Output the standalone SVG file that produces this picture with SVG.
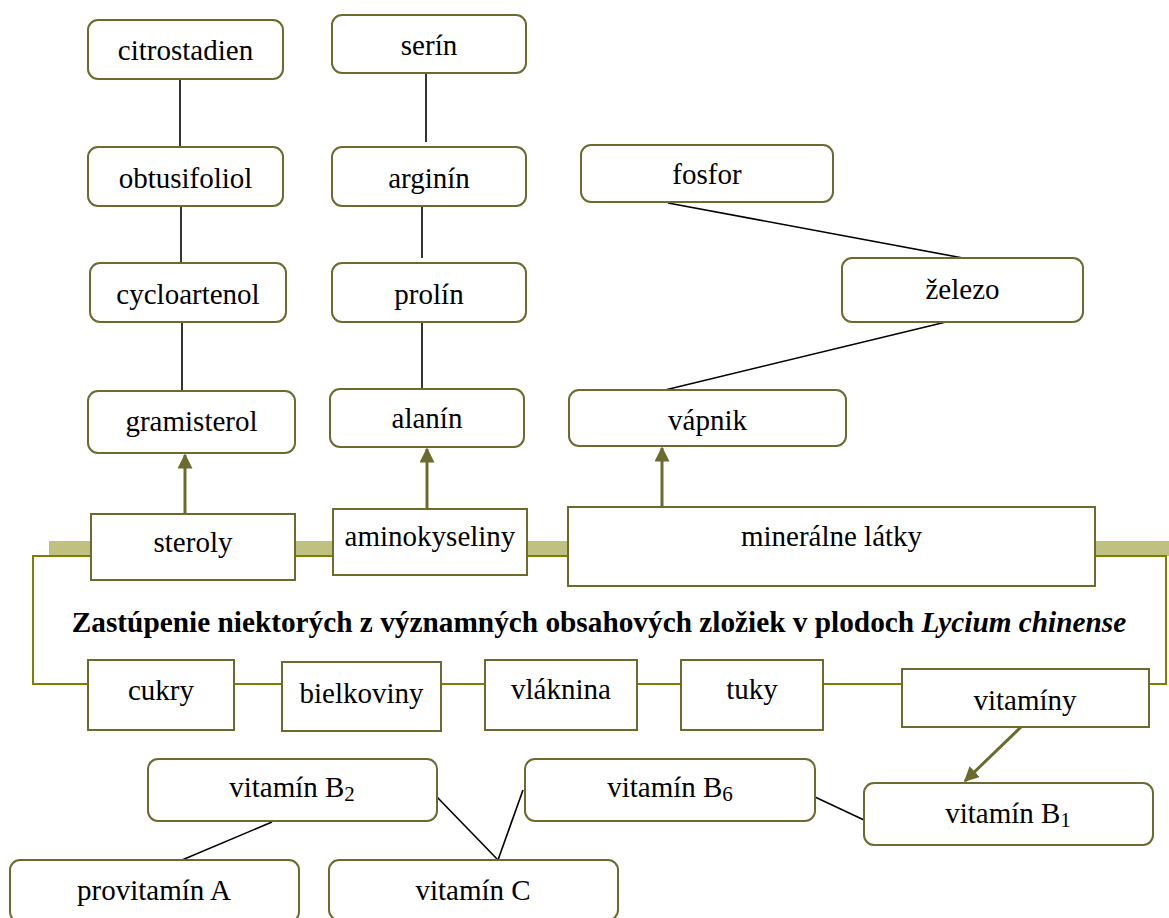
<svg xmlns="http://www.w3.org/2000/svg" width="1169" height="918" viewBox="0 0 1169 918">
  <style>
    .box { fill: #ffffff; stroke: #6b6b2f; stroke-width: 2; }
    .lbl { font-size: 29px; fill: #000000; text-anchor: middle; }
    .sub { font-size: 21px; }
    .title { font-size: 29.3px; font-weight: bold; fill: #000000; text-anchor: middle; }
    .link { stroke: #000000; stroke-width: 1.6; fill: none; }
    .arrow { stroke: #6b6b2f; stroke-width: 3; fill: none; marker-end: url(#head); }
    .frame { stroke: #808000; stroke-width: 2; fill: none; }
    .band { fill: #c0c080; }
  </style>
  <defs>
    <marker id="head" viewBox="0 0 10 10" refX="9" refY="5" markerWidth="5" markerHeight="5" orient="auto" markerUnits="strokeWidth">
      <path d="M0,0 L10,5 L0,10 Z" fill="#6b6b2f"/>
    </marker>
  </defs>
  <rect width="1169" height="918" fill="#ffffff"/>

  <!-- central bracket: light band with olive outline -->
  <g id="bracket">
    <rect class="band" x="49" y="541" width="1120" height="15"/>
    <path class="frame" d="M33,684 V556 H1166 V684 Z"/>
  </g>

  <!-- connectors -->
  <g id="connectors">
    <line class="link" x1="180" y1="79" x2="180" y2="147"/>
    <line class="link" x1="181" y1="206" x2="181" y2="263"/>
    <line class="link" x1="182" y1="322" x2="182" y2="391"/>
    <line class="link" x1="426" y1="73" x2="426" y2="142"/>
    <line class="link" x1="422" y1="206" x2="422" y2="258"/>
    <line class="link" x1="422" y1="322" x2="422" y2="389"/>
    <line class="link" x1="668" y1="203" x2="963" y2="258"/>
    <line class="link" x1="946" y1="322" x2="665" y2="390"/>
    <line class="link" x1="272" y1="822" x2="182" y2="860"/>
    <line class="link" x1="437" y1="797" x2="498" y2="860"/>
    <line class="link" x1="523" y1="790" x2="498" y2="860"/>
    <line class="link" x1="815" y1="797" x2="864" y2="820"/>
    <line class="arrow" x1="185" y1="513" x2="185" y2="455"/>
    <line class="arrow" x1="427" y1="508" x2="427" y2="449"/>
    <line class="arrow" x1="662" y1="510" x2="662" y2="448"/>
    <line class="arrow" x1="1021" y1="727" x2="965" y2="781"/>
  </g>

  <g font-family="Liberation Serif, Times New Roman, serif">
  <!-- sterol chain -->
  <g id="citrostadien"><rect class="box" x="88" y="20" width="195" height="59" rx="10"/><text class="lbl" x="185.5" y="60">citrostadien</text></g>
  <g id="obtusifoliol"><rect class="box" x="88" y="147" width="195" height="59" rx="10"/><text class="lbl" x="185.5" y="188">obtusifoliol</text></g>
  <g id="cycloartenol"><rect class="box" x="90" y="263" width="196" height="59" rx="10"/><text class="lbl" x="188" y="304">cycloartenol</text></g>
  <g id="gramisterol"><rect class="box" x="88" y="391" width="207" height="62" rx="10"/><text class="lbl" x="191.5" y="431">gramisterol</text></g>

  <!-- amino acid chain -->
  <g id="serin"><rect class="box" x="332" y="15" width="194" height="58" rx="10"/><text class="lbl" x="429" y="55">serín</text></g>
  <g id="arginin"><rect class="box" x="332" y="147" width="194" height="59" rx="10"/><text class="lbl" x="429" y="188">arginín</text></g>
  <g id="prolin"><rect class="box" x="332" y="263" width="194" height="59" rx="10"/><text class="lbl" x="429" y="304">prolín</text></g>
  <g id="alanin"><rect class="box" x="330" y="389" width="194" height="58" rx="10"/><text class="lbl" x="427" y="428">alanín</text></g>

  <!-- mineral chain -->
  <g id="fosfor"><rect class="box" x="581" y="145" width="252" height="57" rx="10"/><text class="lbl" x="707" y="184">fosfor</text></g>
  <g id="zelezo"><rect class="box" x="842" y="258" width="241" height="64" rx="10"/><text class="lbl" x="962.5" y="299">železo</text></g>
  <g id="vapnik"><rect class="box" x="569" y="390" width="277" height="56" rx="10"/><text class="lbl" x="707.5" y="430">vápnik</text></g>

  <!-- upper categories -->
  <g id="steroly"><rect class="box" x="91" y="514" width="204" height="66"/><text class="lbl" x="193" y="552">steroly</text></g>
  <g id="aminokyseliny"><rect class="box" x="333" y="509" width="194" height="66"/><text class="lbl" x="430" y="546">aminokyseliny</text></g>
  <g id="mineralne-latky"><rect class="box" x="568" y="507" width="527" height="79"/><text class="lbl" x="831.5" y="546">minerálne látky</text></g>

  <!-- title -->
  <text class="title" x="599" y="632">Zastúpenie niektorých z významných obsahových zložiek v plodoch <tspan font-style="italic">Lycium chinense</tspan></text>

  <!-- lower categories -->
  <g id="cukry"><rect class="box" x="88" y="660" width="146" height="70"/><text class="lbl" x="161" y="700">cukry</text></g>
  <g id="bielkoviny"><rect class="box" x="282" y="662" width="159" height="69"/><text class="lbl" x="361.5" y="703">bielkoviny</text></g>
  <g id="vlaknina"><rect class="box" x="485" y="660" width="152" height="70"/><text class="lbl" x="561" y="699">vláknina</text></g>
  <g id="tuky"><rect class="box" x="681" y="660" width="142" height="70"/><text class="lbl" x="752" y="699">tuky</text></g>
  <g id="vitaminy"><rect class="box" x="902" y="669" width="247" height="58"/><text class="lbl" x="1025" y="710">vitamíny</text></g>

  <!-- vitamins -->
  <g id="vitamin-b1"><rect class="box" x="864" y="783" width="289" height="62" rx="10"/><text class="lbl" x="1008" y="823">vitamín B<tspan class="sub" dy="4">1</tspan></text></g>
  <g id="vitamin-b6"><rect class="box" x="525" y="759" width="290" height="62" rx="10"/><text class="lbl" x="670" y="797">vitamín B<tspan class="sub" dy="4">6</tspan></text></g>
  <g id="vitamin-b2"><rect class="box" x="148" y="759" width="289" height="62" rx="10"/><text class="lbl" x="292" y="797">vitamín B<tspan class="sub" dy="4">2</tspan></text></g>
  <g id="provitamin-a"><rect class="box" x="10" y="860" width="289" height="62" rx="10"/><text class="lbl" x="154" y="900">provitamín A</text></g>
  <g id="vitamin-c"><rect class="box" x="329" y="860" width="289" height="60" rx="10"/><text class="lbl" x="473" y="900">vitamín C</text></g>
  </g>
</svg>
